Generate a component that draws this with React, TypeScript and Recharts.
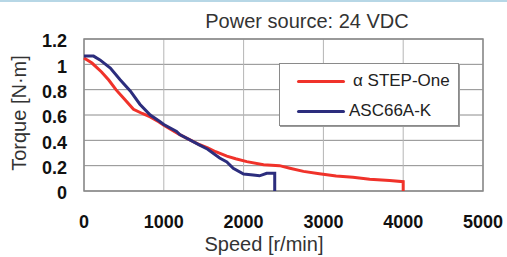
import React from 'react';
import { LineChart, Line, XAxis, YAxis, CartesianGrid, ReferenceArea, Legend } from 'recharts';

const speedTicks = [0, 1000, 2000, 3000, 4000, 5000];
const torqueTicks = [0, 0.2, 0.4, 0.6, 0.8, 1, 1.2];
const seriesNames = ['α STEP-One', 'ASC66A-K'];
const seriesColors = ['#f0322a', '#2c2d7d'];

const alphaStepSpeed = [0, 100, 220, 310, 400, 500, 620, 730, 830, 935, 1000, 1200, 1450, 1550, 1650, 1790, 1900, 2040, 2250, 2450, 2580, 2750, 2950, 3160, 3370, 3580, 3830, 4000, 4000];
const alphaStepTorque = [1.05, 1.01, 0.94, 0.876, 0.8, 0.73, 0.645, 0.612, 0.585, 0.547, 0.52, 0.445, 0.365, 0.34, 0.31, 0.275, 0.255, 0.232, 0.207, 0.2, 0.18, 0.155, 0.136, 0.119, 0.108, 0.093, 0.082, 0.073, 0];

const ascSpeed = [0, 120, 200, 330, 450, 580, 700, 830, 950, 1000, 1160, 1200, 1450, 1550, 1700, 1790, 1870, 2000, 2120, 2200, 2290, 2390, 2390];
const ascTorque = [1.065, 1.065, 1.035, 0.97, 0.88, 0.79, 0.685, 0.6, 0.548, 0.525, 0.47, 0.445, 0.362, 0.33, 0.26, 0.23, 0.18, 0.134, 0.127, 0.12, 0.14, 0.14, 0];

const alphaData = alphaStepSpeed.map((x, i) => ({ x, y: alphaStepTorque[i] }));
const ascData = ascSpeed.map((x, i) => ({ x, y: ascTorque[i] }));

const FONT = '"Liberation Sans", Arial, sans-serif';

const LegendBox = () => (
  <div
    style={{
      position: 'relative',
      width: 180,
      height: 63,
      background: '#fff',
      border: '1px solid #8a8a8a',
      boxShadow: '1px 1px 0 #9a9a9a',
      boxSizing: 'border-box',
      fontFamily: FONT,
    }}
  >
    {seriesNames.map((name, i) => (
      <div key={name}>
        <div
          style={{
            position: 'absolute',
            left: 17,
            top: 16 + i * 30,
            width: 48,
            height: 3,
            background: seriesColors[i],
            borderRadius: 2,
          }}
        />
        <div
          style={{
            position: 'absolute',
            left: i === 0 ? 73 : 69,
            top: 7 + i * 30,
            fontSize: 17,
            lineHeight: '20px',
            color: '#222',
            whiteSpace: 'nowrap',
          }}
        >
          {name}
        </div>
      </div>
    ))}
  </div>
);

export default function App() {
  return (
    <div style={{ position: 'absolute', left: 0, top: 0, width: 507, height: 257, background: '#fff', fontFamily: FONT }}>
      <div style={{ position: 'absolute', left: 0, top: 0, width: 507, height: 2, background: '#b7d7e6' }} />
      <LineChart width={507} height={257} data={alphaData} margin={{ top: 39, right: 24, left: 0, bottom: 0 }}>
        <CartesianGrid vertical={false} stroke="#8c8c8c" strokeWidth={1} />
        <CartesianGrid horizontal={false} stroke="#b5b5b5" strokeWidth={1} />
        <XAxis
          type="number"
          dataKey="x"
          domain={[0, 5000]}
          ticks={speedTicks}
          interval={0}
          height={66}
          tickSize={0}
          tickMargin={24}
          axisLine={false}
          tickLine={false}
          tick={{ fill: '#111', fontSize: 18, fontWeight: 'bold', fontFamily: FONT }}
          label={{
            content: () => (
              <text x={264} y={251} textAnchor="middle" fontSize={20} fill="#333" fontFamily={FONT}>
                Speed [r/min]
              </text>
            ),
          }}
        />
        <YAxis
          type="number"
          domain={[0, 1.2]}
          ticks={torqueTicks}
          interval={0}
          width={84}
          tickSize={0}
          tickMargin={17}
          axisLine={false}
          tickLine={false}
          tick={{ fill: '#111', fontSize: 18, fontWeight: 'bold', fontFamily: FONT, dy: 2 }}
          label={{
            content: () => (
              <text x={26} y={113} textAnchor="middle" fontSize={20} fill="#333" fontFamily={FONT} transform="rotate(-90 26 113)">
                Torque [N·m]
              </text>
            ),
          }}
        />
        <ReferenceArea x1={0} x2={5000} y1={0} y2={1.2} fill="none" stroke="#8a8a8a" strokeWidth={1.5} ifOverflow="visible" />
        <Line data={alphaData} dataKey="y" name={seriesNames[0]} stroke={seriesColors[0]} strokeWidth={3} dot={false} isAnimationActive={false} type="linear" />
        <Line data={ascData} dataKey="y" name={seriesNames[1]} stroke={seriesColors[1]} strokeWidth={3} dot={false} isAnimationActive={false} type="linear" />
        <Legend
          layout="horizontal"
          verticalAlign="middle"
          align="center"
          content={() => <LegendBox />}
          wrapperStyle={{ left: 279, top: 63, width: 181, height: 64 }}
        />
      </LineChart>
      <svg style={{ position: 'absolute', left: 0, top: 0, pointerEvents: 'none' }} width={507} height={40}>
        <text x={307} y={28} textAnchor="middle" fontSize={20} fill="#333" fontFamily={FONT}>
          Power source: 24 VDC
        </text>
      </svg>
    </div>
  );
}
